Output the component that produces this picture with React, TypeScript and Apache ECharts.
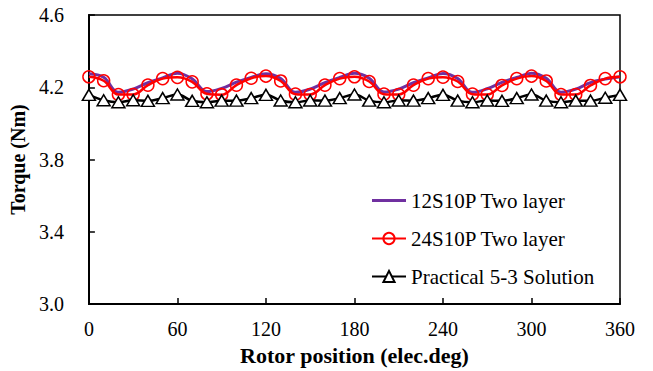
import React, { useEffect, useRef } from "react";
import * as echarts from "echarts";

const positions = [0,10,20,30,40,50,60,70,80,90,100,110,120,130,140,150,160,170,180,190,200,210,220,230,240,250,260,270,280,290,300,310,320,330,340,350,360];

const twoLayer12 = [4.275,4.255,4.172,4.19,4.225,4.252,4.278,4.247,4.176,4.194,4.228,4.255,4.275,4.248,4.172,4.19,4.226,4.254,4.277,4.25,4.174,4.19,4.225,4.252,4.276,4.248,4.172,4.192,4.227,4.254,4.278,4.25,4.173,4.19,4.226,4.245,4.258];

const twoLayer24 = [4.258,4.236,4.16,4.16,4.212,4.248,4.255,4.23,4.164,4.159,4.212,4.25,4.262,4.235,4.162,4.16,4.212,4.248,4.258,4.232,4.162,4.16,4.212,4.248,4.256,4.232,4.162,4.16,4.21,4.248,4.262,4.235,4.16,4.16,4.21,4.248,4.258];

const practical53 = [4.158,4.128,4.117,4.128,4.125,4.14,4.16,4.125,4.117,4.126,4.126,4.14,4.158,4.127,4.117,4.127,4.126,4.14,4.16,4.126,4.117,4.127,4.126,4.14,4.158,4.126,4.117,4.127,4.125,4.14,4.16,4.126,4.117,4.126,4.126,4.142,4.158];

const seriesNames = ["12S10P Two layer", "24S10P Two layer", "Practical 5-3 Solution"];

const FONT = "'Liberation Serif', 'Times New Roman', serif";

export default function App() {
  const ref = useRef<HTMLDivElement>(null);
  useEffect(() => {
    if (!ref.current) return;
    const chart = echarts.init(ref.current, undefined, { renderer: "svg" });
    const pair = (arr: number[]) => positions.map((x, i) => [x, arr[i]]);
    chart.setOption({
      animation: false,
      backgroundColor: "#fff",
      textStyle: { fontFamily: FONT },
      grid: {
        left: 87, right: 33, top: 15, bottom: 57,
        show: true, borderColor: "#000", borderWidth: 1.5, backgroundColor: "transparent",
      },
      legend: {
        orient: "vertical",
        left: 371, top: 190, padding: 0,
        itemWidth: 34, itemHeight: 14, itemGap: 17,
        textStyle: { fontFamily: FONT, fontSize: 21, color: "#000" },
        data: [
          { name: seriesNames[0], icon: "path://M0,0 L34,0 L34,3 L0,3 Z", itemStyle: { color: "#7030A0" } },
          { name: seriesNames[1] },
          { name: seriesNames[2] },
        ],
      },
      xAxis: {
        type: "value", min: 0, max: 360, interval: 60,
        name: "Rotor position (elec.deg)", nameLocation: "middle", nameGap: 32,
        nameTextStyle: { fontFamily: FONT, fontSize: 22, fontWeight: "bold", color: "#000" },
        axisLine: { show: true, onZero: false, lineStyle: { color: "#000", width: 2 } },
        axisTick: { show: true, inside: true, length: 6, lineStyle: { color: "#000", width: 1.5 } },
        axisLabel: { fontFamily: FONT, fontSize: 20, color: "#000", margin: 15 },
        splitLine: { show: false },
      },
      yAxis: {
        type: "value", min: 3.0, max: 4.6, interval: 0.4,
        name: "Torque (Nm)", nameLocation: "middle", nameGap: 51, nameRotate: 90,
        nameTextStyle: { fontFamily: FONT, fontSize: 20, fontWeight: "bold", color: "#000" },
        axisLine: { show: true, lineStyle: { color: "#000", width: 2 } },
        axisTick: { show: true, inside: true, length: 6, lineStyle: { color: "#000", width: 1.5 } },
        axisLabel: { fontFamily: FONT, fontSize: 20, color: "#000", margin: 25, formatter: (v: number) => v.toFixed(1) },
        splitLine: { show: false },
      },
      series: [
        {
          name: seriesNames[0], type: "line", data: pair(twoLayer12), smooth: 0.4,
          showSymbol: false, symbol: "none",
          lineStyle: { color: "#7030A0", width: 3 }, itemStyle: { color: "#7030A0" }, z: 2,
        },
        {
          name: seriesNames[1], type: "line", data: pair(twoLayer24), smooth: 0.4,
          symbol: "circle", symbolSize: 12,
          lineStyle: { color: "#FF0000", width: 2.5 },
          itemStyle: { color: "rgba(255,255,255,0)", borderColor: "#FF0000", borderWidth: 1.5 }, z: 3,
        },
        {
          name: seriesNames[2], type: "line", data: pair(practical53), smooth: 0.4,
          symbol: "triangle", symbolSize: [13, 11],
          lineStyle: { color: "#000", width: 2.5 },
          itemStyle: { color: "#fff", borderColor: "#000", borderWidth: 1.5 }, z: 4,
        },
      ],
    });
    return () => chart.dispose();
  }, []);
  return <div ref={ref} style={{ position: "fixed", left: 0, top: 0, width: 653, height: 371 }} />;
}
